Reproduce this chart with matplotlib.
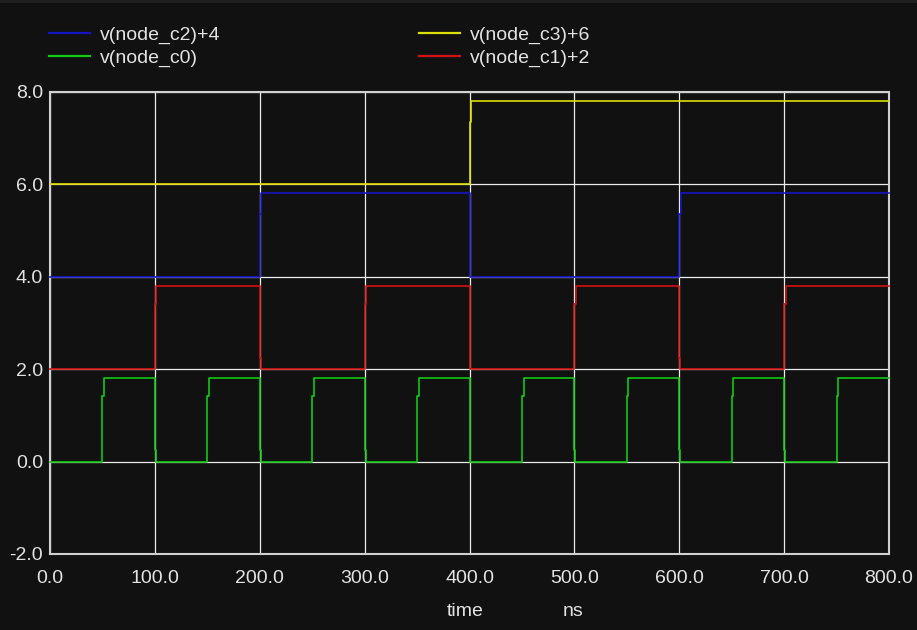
import matplotlib
matplotlib.use("Agg")
import matplotlib.pyplot as plt
from matplotlib.patches import Rectangle

# ---- data ----
x_ticks = [0, 100, 200, 300, 400, 500, 600, 700, 800]
y_ticks = [-2, 0, 2, 4, 6, 8]

# node_c0 (offset 0)
c0_label = "v(node_c0)"
c0_low, c0_mid, c0_high, c0_glitch = 0.0, 1.42, 1.8, 0.25
c0_rise = [50, 150, 250, 350, 450, 550, 650, 750]
c0_fall = [100, 200, 300, 400, 500, 600, 700]

# node_c1 (+2)
c1_label = "v(node_c1)+2"
c1_low, c1_mid, c1_high, c1_glitch = 2.0, 3.42, 3.8, 2.25
c1_rise = [100, 300, 500, 700]
c1_fall = [200, 400, 600]

# node_c2 (+4)
c2_label = "v(node_c2)+4"
c2_low, c2_mid, c2_high, c2_glitch = 4.0, 5.35, 5.82, 4.25
c2_rise = [200, 600]
c2_fall = [400]

# node_c3 (+6)
c3_label = "v(node_c3)+6"
c3_low, c3_mid, c3_high, c3_glitch = 6.0, 7.35, 7.8, 6.25
c3_rise = [400]
c3_fall = []

t_end = 800


def wave(low, mid, high, glitch, rise, fall):
    ev = [(t, "r") for t in rise] + [(t, "f") for t in fall]
    ev.sort()
    ts, vs = [0.0], [low]
    for t, k in ev:
        if k == "r":
            ts += [t, t + 1.5]
            vs += [mid, high]
        else:
            ts += [t, t + 0.9]
            vs += [glitch, low]
    ts.append(t_end)
    vs.append(vs[-1])
    return ts, vs


BG = "#111111"
FG = "#e2e2e2"
FAM = ["Liberation Sans", "DejaVu Sans"]
FS = 14

W, H = 917, 630
fig = plt.figure(figsize=(W / 100, H / 100), dpi=100, facecolor=BG)
fig.add_artist(Rectangle((0, 1 - 3 / H), 1, 3 / H, transform=fig.transFigure,
                         facecolor="#1f1f1f", edgecolor="none"))

ax = fig.add_axes([50 / W, (H - 554) / H, (889 - 50) / W, (554 - 92) / H])
ax.set_facecolor(BG)
ax.set_xlim(0, 800)
ax.set_ylim(-2, 8)
ax.set_xticks(x_ticks)
ax.set_yticks(y_ticks)
ax.set_xticklabels([f"{v:.1f}" for v in x_ticks], family=FAM, fontsize=FS, color=FG)
ax.set_yticklabels([f"{v:.1f}" for v in y_ticks], family=FAM, fontsize=FS, color=FG)
ax.tick_params(axis="x", length=0, pad=11.5)
ax.tick_params(axis="y", length=0, pad=5)
ax.grid(True, color="#ececec", linewidth=0.9, zorder=0)
ax.set_axisbelow(True)
for s in ax.spines.values():
    s.set_color("#d0d0d0")
    s.set_linewidth(1.5)

series = {
    "c2": (wave(c2_low, c2_mid, c2_high, c2_glitch, c2_rise, c2_fall), "#1414c4", c2_label),
    "c3": (wave(c3_low, c3_mid, c3_high, c3_glitch, c3_rise, c3_fall), "#dede00", c3_label),
    "c0": (wave(c0_low, c0_mid, c0_high, c0_glitch, c0_rise, c0_fall), "#12c812", c0_label),
    "c1": (wave(c1_low, c1_mid, c1_high, c1_glitch, c1_rise, c1_fall), "#d41010", c1_label),
}
handles = {}
for key, ((ts, vs), col, lab) in series.items():
    h, = ax.plot(ts, vs, drawstyle="steps-post", color=col, lw=1.2, label=lab,
                 zorder=3, clip_on=False)
    handles[key] = h


def column_legend(keys, x_px):
    leg = fig.legend(handles=[handles[k] for k in keys],
                     labels=[series[k][2] for k in keys],
                     loc="upper left", bbox_to_anchor=(x_px / W, 1 - 26 / H),
                     frameon=False, prop={"family": FAM, "size": FS},
                     handlelength=2.1, handletextpad=0.5, labelspacing=0.27,
                     borderpad=0.0, borderaxespad=0.0)
    for txt in leg.get_texts():
        txt.set_color(FG)
    for ln in leg.get_lines():
        ln.set_linewidth(1.6)
    return leg


column_legend(["c2", "c0"], 49)
column_legend(["c3", "c1"], 419)

fig.text(465 / W, 1 - 611 / H, "time", ha="center", va="center", family=FAM, fontsize=FS, color=FG)
fig.text(573 / W, 1 - 611 / H, "ns", ha="center", va="center", family=FAM, fontsize=FS, color=FG)

fig.savefig("out.png", dpi=100, facecolor=BG)
